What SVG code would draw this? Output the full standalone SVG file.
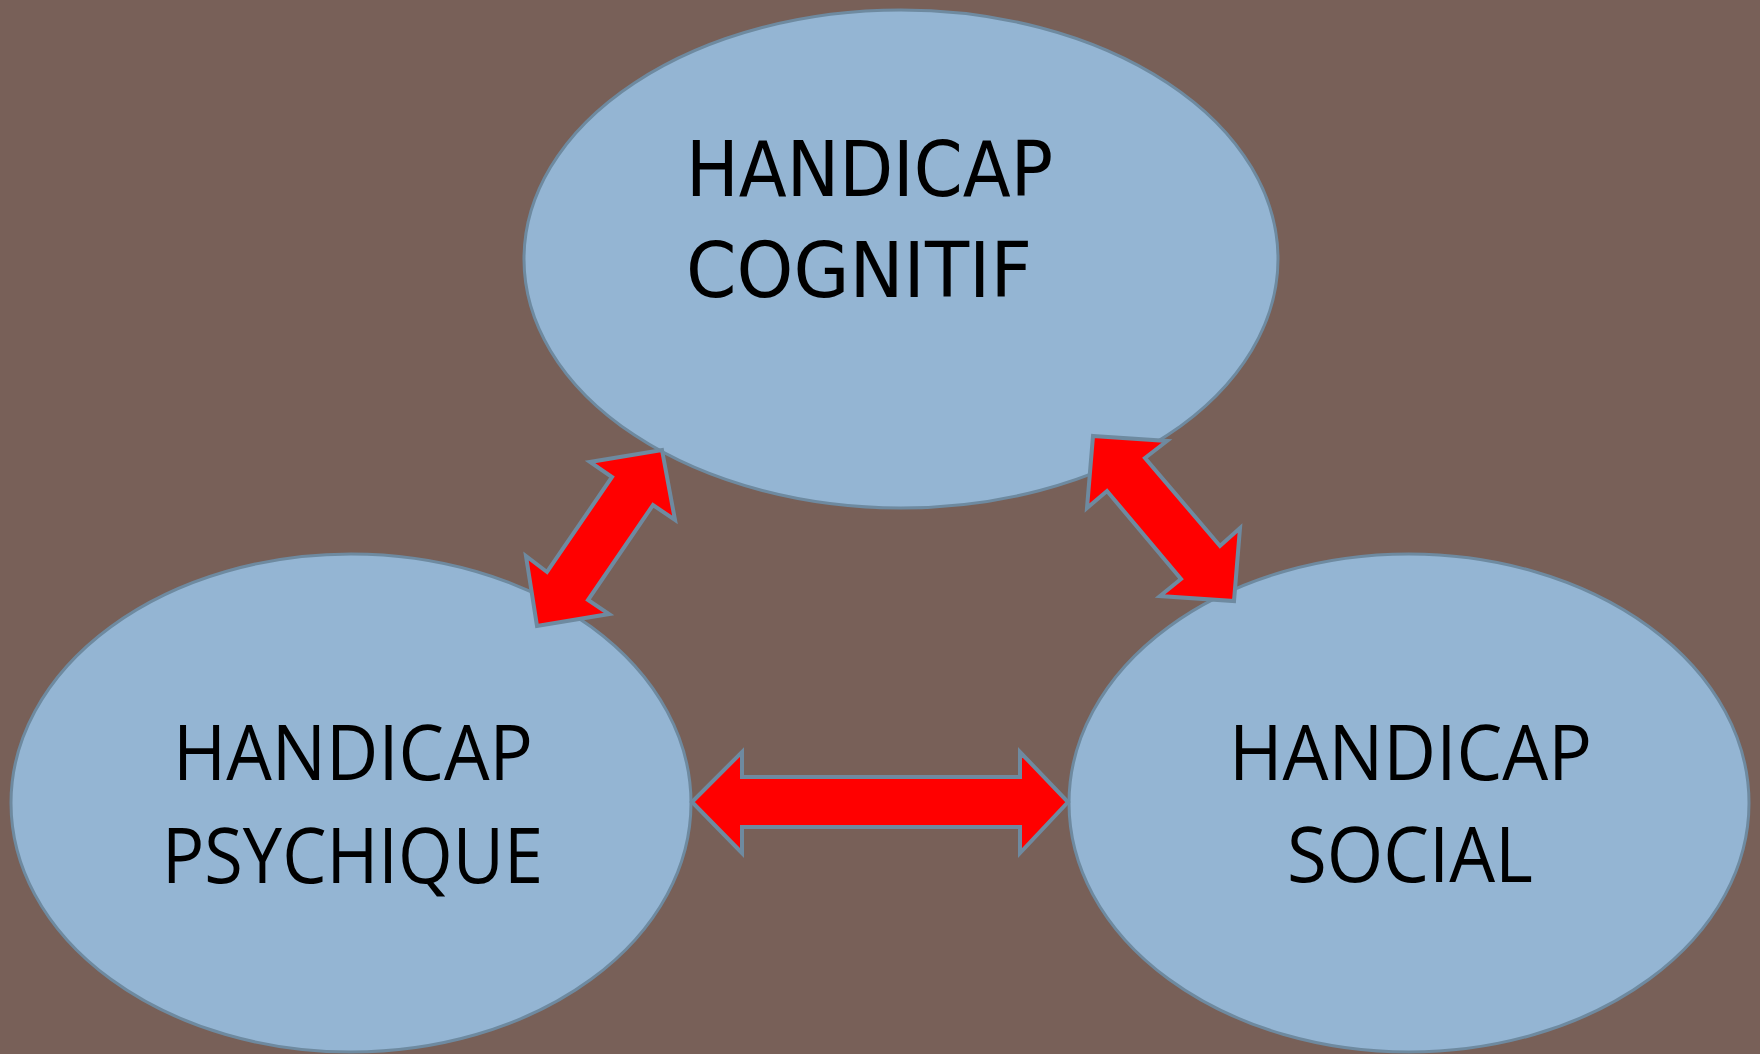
<svg xmlns="http://www.w3.org/2000/svg" width="1760" height="1054" viewBox="0 0 1760 1054">
<style>
.node{fill:#94B5D3;stroke:#6E8AA0;stroke-width:3}
.arr{fill:#FF0000;stroke:#6E8AA0;stroke-width:4;stroke-linejoin:miter}
.t1{font-family:"DejaVu Sans",sans-serif;font-size:76px;fill:#000}
.t2{font-family:"Open Sans","Liberation Sans",sans-serif;font-size:76px;fill:#000}
</style>
<rect x="0" y="0" width="1760" height="1054" fill="#786058"/>
<g id="node-cognitif">
<ellipse class="node" cx="901" cy="259" rx="377" ry="249"/>
<text class="t1" x="686" y="196" textLength="367" lengthAdjust="spacingAndGlyphs">HANDICAP</text>
<text class="t1" x="686" y="297" textLength="346" lengthAdjust="spacingAndGlyphs">COGNITIF</text>
</g>
<g id="node-psychique">
<ellipse class="node" cx="351" cy="803" rx="340" ry="249"/>
<text class="t2" x="173" y="780" textLength="360" lengthAdjust="spacingAndGlyphs">HANDICAP</text>
<text class="t2" x="162" y="883" textLength="381" lengthAdjust="spacingAndGlyphs">PSYCHIQUE</text>
</g>
<g id="node-social">
<ellipse class="node" cx="1409" cy="803" rx="340" ry="249"/>
<text class="t2" x="1229" y="780" textLength="363" lengthAdjust="spacingAndGlyphs">HANDICAP</text>
<text class="t2" x="1287" y="882" textLength="246" lengthAdjust="spacingAndGlyphs">SOCIAL</text>
</g>
<g id="connectors">
<polygon class="arr" points="662,450 675,520 653,505 588,600 609,614 537,626 526,556 547,572 612,477 590,462"/>
<polygon class="arr" points="1093,436 1167,441 1145,458 1220,546 1240,528 1234,601 1160,596 1181,579 1107,491 1087,508"/>
<polygon class="arr" points="692,802 742,752 742,777 1020,777 1020,752 1068,802 1020,853 1020,827 742,827 742,853"/>
</g>
</svg>
